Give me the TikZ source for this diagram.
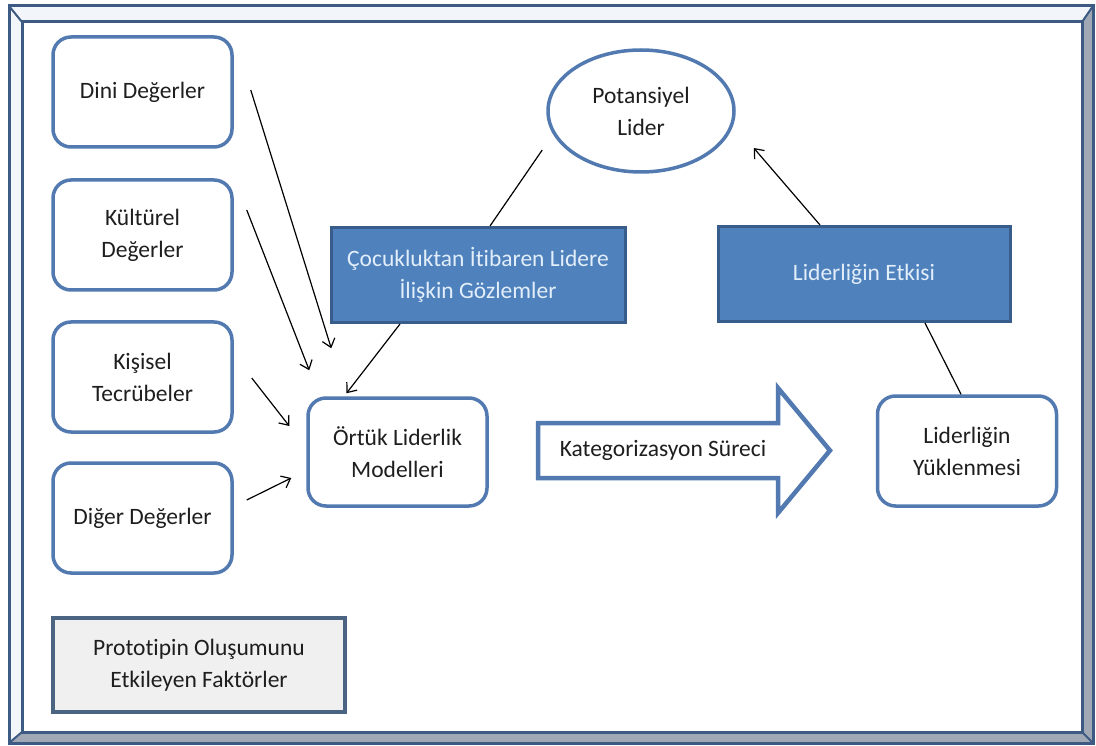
\documentclass[tikz,border=0pt]{standalone}
\usepackage{fontspec}
\setmainfont{Carlito}[Ligatures=NoCommon]
\usetikzlibrary{arrows.meta,shapes.geometric}
\definecolor{frameline}{RGB}{60,90,130}
\definecolor{framelight}{RGB}{242,245,250}
\definecolor{framegrey}{RGB}{160,168,182}
\definecolor{boxline}{RGB}{82,122,176}
\definecolor{bluefill}{RGB}{79,129,189}
\definecolor{blueline}{RGB}{56,93,138}
\definecolor{bluetext}{RGB}{226,238,250}
\definecolor{greyfill}{RGB}{240,240,240}
\definecolor{greyline}{RGB}{74,100,130}
\definecolor{ink}{RGB}{30,30,30}
\tikzset{
  every node/.style={font=\fontsize{23.5}{32}\selectfont, text=ink, align=center},
  factor/.style={draw=boxline, line width=3.5pt, rounded corners=18pt, fill=white,
    minimum width=179pt, minimum height=110pt, inner sep=0pt},
  bluebox/.style={draw=blueline, line width=3pt, fill=bluefill, text=bluetext,
    minimum width=294pt, minimum height=95pt, inner sep=0pt},
  legendbox/.style={draw=greyline, line width=3.5pt, fill=greyfill,
    minimum width=292pt, minimum height=94pt, inner sep=0pt},
  leaderoval/.style={ellipse, draw=boxline, line width=3.5pt, fill=white,
    minimum width=186pt, minimum height=122pt, inner sep=0pt},
  link/.style={draw=black, line width=1.2pt},
  linkarrow/.style={link, -{Straight Barb[length=8pt,width=13pt,line width=1.2pt]}},
  bigarrow/.style={draw=boxline, line width=4.5pt, fill=white, line join=miter}
}
\begin{document}
\begin{tikzpicture}[x=1pt,y=-1pt]
\useasboundingbox (0,0) rectangle (1096,746);
% bevelled frame
\fill[framelight] (9,6) -- (1093,6) -- (1082,22) -- (22,22) -- cycle;
\fill[framelight] (9,6) -- (22,22) -- (22,732) -- (9,743) -- cycle;
\fill[framegrey] (1093,6) -- (1093,743) -- (1082,732) -- (1082,22) -- cycle;
\fill[framegrey] (9,743) -- (1093,743) -- (1082,732) -- (22,732) -- cycle;
\draw[frameline, line width=3pt] (9,6) rectangle (1093,743);
\draw[frameline, line width=3pt] (22,22) rectangle (1082,732);
\draw[frameline, line width=2pt] (9,6) -- (22,22) (1093,6) -- (1082,22)
  (1093,743) -- (1082,732) (9,743) -- (22,732);

% factor boxes
\node[factor] (dini) at (142.5,92) {Dini Değerler};
\node[factor] (kultur) at (142.5,235) {Kültürel\\Değerler};
\node[factor] (kisisel) at (142.5,377) {Kişisel\\Tecrübeler};
\node[factor] (diger) at (142.5,518) {Diğer Değerler};
\node[legendbox] (proto) at (199,665) {Prototipin Oluşumunu\\Etkileyen Faktörler};

% central nodes
\node[factor, minimum height=108pt] (ortuk) at (397.5,452) {Örtük Liderlik\\Modelleri};
\node[factor] (yuk) at (967,451) {Liderliğin\\Yüklenmesi};
\node[leaderoval] (pot) at (641,111) {Potansiyel\\Lider};
\node[bluebox] (cocuk) at (478,275) {Çocukluktan İtibaren Lidere\\İlişkin Gözlemler};
\node[bluebox, minimum width=292pt] (etki) at (864,274) {Liderliğin Etkisi};

% categorisation arrow
\path[bigarrow] (538,423) -- (778,423) -- (778,388) -- (830,450.5)
  -- (778,513) -- (778,478) -- (538,478) -- cycle;
\node (kat) at (663,450.5) {Kategorizasyon Süreci};

% connectors
\draw[linkarrow] ([xshift=17pt,yshift=2pt]dini.east) -- ([xshift=25pt,yshift=48pt]ortuk.north west);
\draw[linkarrow] ([xshift=13pt,yshift=25pt]kultur.east) -- ([xshift=3pt,yshift=26pt]ortuk.north west);
\draw[linkarrow] ([xshift=18pt,yshift=-1pt]kisisel.east) -- ([xshift=-17pt,yshift=26pt]ortuk.west);
\draw[linkarrow] ([xshift=13pt,yshift=18pt]diger.east) -- ([xshift=-15pt,yshift=-26pt]ortuk.west);
\draw[linkarrow] ([xshift=-78pt]cocuk.south) -- ([xshift=-51pt,yshift=3pt]ortuk.north);
\draw[link] ([xshift=12pt]cocuk.north) -- ([xshift=-4pt,yshift=-39pt]pot.west);
\draw[link] ([xshift=-6pt]yuk.north) -- ([xshift=61pt]etki.south);
\draw[linkarrow] ([xshift=-44pt]etki.north) -- ([xshift=18pt,yshift=-37pt]pot.east);
\end{tikzpicture}
\end{document}
